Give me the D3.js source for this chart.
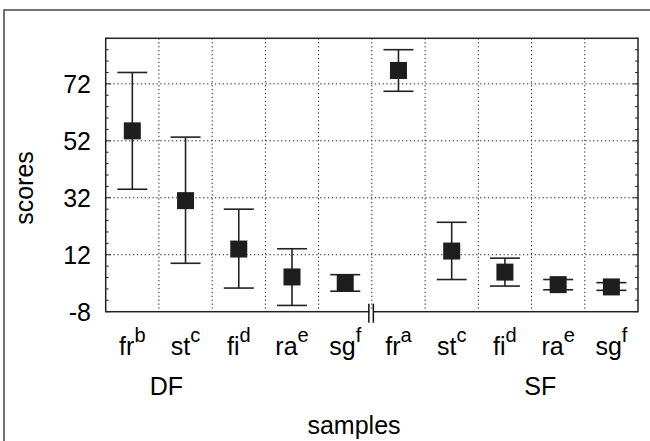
<!DOCTYPE html>
<html>
<head>
<meta charset="utf-8">
<script src="https://cdn.jsdelivr.net/npm/d3@7"></script>
<style>
  html, body { margin: 0; padding: 0; background: #fff; }
  svg { display: block; font-family: "Liberation Sans", Arial, sans-serif; }
</style>
</head>
<body>
<div id="chart"></div>
<script>
// --- data ---
const samples = ["fr", "st", "fi", "ra", "sg", "fr", "st", "fi", "ra", "sg"];
const supers  = ["b", "c", "d", "e", "f", "a", "c", "d", "e", "f"];
const groups  = ["DF", "DF", "DF", "DF", "DF", "SF", "SF", "SF", "SF", "SF"];
const means   = [55.5, 31, 14, 4.2, 2.2, 76.7, 13.3, 5.9, 1.5, 0.7];
const lows    = [35, 9, 0.3, -5.8, -0.8, 69.4, 3.3, 1, -0.3, -0.5];
const highs   = [76, 53.3, 28, 14.1, 5, 84, 23.4, 10.8, 3.3, 2.2];
const yTicks  = [-8, 12, 32, 52, 72];

const width = 650, height = 441;
const plot = { left: 105.7, right: 638, top: 38.3, bottom: 311.7 };

const svg = d3.select("#chart").append("svg")
  .attr("width", width).attr("height", height);

// outer (cropped) frame: only top and left edges visible
svg.append("path")
  .attr("d", `M4,${height} L4,10 L${width},10`)
  .attr("fill", "none").attr("stroke", "#444").attr("stroke-width", 1.5);

const idx = d3.range(samples.length);
const x = d3.scaleBand().domain(idx).range([plot.left, plot.right]).padding(0);
const y = d3.scaleLinear().domain([-8, 88]).range([plot.bottom, plot.top]);

// horizontal dotted grid
svg.append("g").selectAll("line")
  .data(yTicks.filter(t => t > -8))
  .join("line")
  .attr("x1", plot.left).attr("x2", plot.right)
  .attr("y1", d => y(d)).attr("y2", d => y(d))
  .attr("stroke", "#222").attr("stroke-width", 1)
  .attr("stroke-dasharray", "1.3,2.6");

// vertical dotted grid at category boundaries
svg.append("g").selectAll("line")
  .data(idx.slice(1))
  .join("line")
  .attr("x1", d => x(d)).attr("x2", d => x(d))
  .attr("y1", plot.top).attr("y2", plot.bottom)
  .attr("stroke", "#222").attr("stroke-width", 1)
  .attr("stroke-dasharray", "1.3,2.6");

// minor / major ticks on left and right, pointing inward
const minor = d3.range(-8, 89, 4);
const tickG = svg.append("g").attr("stroke", "#222").attr("stroke-width", 1);
tickG.selectAll("line.l").data(minor).join("line").attr("class", "l")
  .attr("x1", plot.left).attr("x2", d => plot.left + (yTicks.includes(d) ? 5 : 3))
  .attr("y1", d => y(d)).attr("y2", d => y(d));
tickG.selectAll("line.r").data(minor).join("line").attr("class", "r")
  .attr("x1", plot.right).attr("x2", d => plot.right - (yTicks.includes(d) ? 5 : 3))
  .attr("y1", d => y(d)).attr("y2", d => y(d));

// plot frame
svg.append("rect")
  .attr("x", plot.left).attr("y", plot.top)
  .attr("width", plot.right - plot.left).attr("height", plot.bottom - plot.top)
  .attr("fill", "none").attr("stroke", "#222").attr("stroke-width", 1.5);

// axis break "||" between DF and SF
const bx = x(5);
svg.append("rect")
  .attr("x", bx - 2.5).attr("y", plot.bottom - 2)
  .attr("width", 4).attr("height", 4).attr("fill", "#fff");
svg.append("g").selectAll("line")
  .data([-3, 1.5])
  .join("line")
  .attr("x1", d => bx + d).attr("x2", d => bx + d)
  .attr("y1", plot.bottom - 8).attr("y2", plot.bottom + 11)
  .attr("stroke", "#111").attr("stroke-width", 1.5);

// y tick labels
svg.append("g").selectAll("text")
  .data(yTicks)
  .join("text")
  .attr("x", 91).attr("y", d => y(d))
  .attr("dy", "0.36em")
  .attr("text-anchor", "end")
  .attr("font-size", 25)
  .text(d => d);

// y axis title
svg.append("text")
  .attr("transform", "translate(33,188) rotate(-90)")
  .attr("text-anchor", "middle")
  .attr("font-size", 25)
  .text("scores");

// error bars + square markers
const cx = i => x(i) + x.bandwidth() / 2;
const bars = svg.append("g").attr("stroke", "#222").attr("stroke-width", 1.6);
bars.selectAll("line.v").data(idx).join("line").attr("class", "v")
  .attr("x1", cx).attr("x2", cx)
  .attr("y1", i => y(highs[i])).attr("y2", i => y(lows[i]));
bars.selectAll("line.hi").data(idx).join("line").attr("class", "hi")
  .attr("x1", i => cx(i) - 15).attr("x2", i => cx(i) + 15)
  .attr("y1", i => y(highs[i])).attr("y2", i => y(highs[i]));
bars.selectAll("line.lo").data(idx).join("line").attr("class", "lo")
  .attr("x1", i => cx(i) - 15).attr("x2", i => cx(i) + 15)
  .attr("y1", i => y(lows[i])).attr("y2", i => y(lows[i]));

svg.append("g").selectAll("rect")
  .data(idx)
  .join("rect")
  .attr("x", i => cx(i) - 8.5).attr("y", i => y(means[i]) - 8.5)
  .attr("width", 17).attr("height", 17)
  .attr("fill", "#1e1e1e");

// x category labels with superscripts
const xl = svg.append("g").selectAll("text")
  .data(idx)
  .join("text")
  .attr("x", cx).attr("y", 355)
  .attr("text-anchor", "middle")
  .attr("font-size", 25);
xl.append("tspan").text(i => samples[i]);
xl.append("tspan").attr("font-size", 20).attr("dy", -13).text(i => supers[i]);

// group labels
const groupNames = Array.from(new Set(groups));
const groupPos = { DF: x(1) + 7.5, SF: x(8) + 8.7 };
svg.append("g").selectAll("text")
  .data(groupNames)
  .join("text")
  .attr("x", d => groupPos[d]).attr("y", 395)
  .attr("text-anchor", "middle")
  .attr("font-size", 25)
  .text(d => d);

// x axis title
svg.append("text")
  .attr("x", 354).attr("y", 434)
  .attr("text-anchor", "middle")
  .attr("font-size", 25)
  .text("samples");
</script>
</body>
</html>
